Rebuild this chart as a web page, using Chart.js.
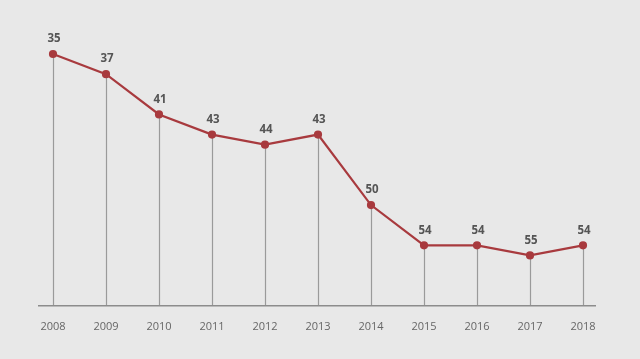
<!DOCTYPE html>
<html>
<head>
<meta charset="utf-8">
<script src="https://cdn.jsdelivr.net/npm/chart.js@4"></script>
<style>
  body { margin: 0; background: #e8e8e8; }
  canvas { display: block; }
</style>
</head>
<body>
<canvas id="myChart" width="640" height="359"></canvas>
<script>
const years = ['2008', '2009', '2010', '2011', '2012', '2013', '2014', '2015', '2016', '2017', '2018'];
const ranks = [35, 37, 41, 43, 44, 43, 50, 54, 54, 55, 54];

// vertical drop lines + baseline, and value labels
const dropLines = {
  id: 'dropLines',
  beforeDatasetsDraw(chart) {
    const ctx = chart.ctx;
    const area = chart.chartArea;
    const pts = chart.getDatasetMeta(0).data;
    ctx.save();
    ctx.strokeStyle = '#9a9a9a';
    ctx.lineWidth = 1.2;
    pts.forEach(p => {
      ctx.beginPath();
      ctx.moveTo(Math.round(p.x) + 0.5, p.y);
      ctx.lineTo(Math.round(p.x) + 0.5, area.bottom);
      ctx.stroke();
    });
    ctx.strokeStyle = '#8c8c8c';
    ctx.lineWidth = 1.5;
    ctx.beginPath();
    ctx.moveTo(area.left - 15, area.bottom);
    ctx.lineTo(area.right + 13, area.bottom);
    ctx.stroke();
    ctx.restore();
  },
  afterDatasetsDraw(chart) {
    const ctx = chart.ctx;
    const pts = chart.getDatasetMeta(0).data;
    ctx.save();
    ctx.fillStyle = '#555555';
    ctx.font = 'bold 11.5px "Open Sans"';
    ctx.textAlign = 'center';
    ctx.textBaseline = 'middle';
    pts.forEach((p, i) => {
      ctx.fillText(ranks[i], p.x + 1, p.y - 15);
    });
    ctx.restore();
  }
};

new Chart(document.getElementById('myChart'), {
  type: 'line',
  data: {
    labels: years,
    datasets: [{
      data: ranks,
      borderColor: '#a83a3e',
      borderWidth: 2.2,
      backgroundColor: '#a83a3e',
      pointRadius: 3,
      pointHoverRadius: 3,
      tension: 0,
      clip: false
    }]
  },
  options: {
    responsive: false,
    animation: false,
    layout: { padding: { left: 53, right: 57, top: 54, bottom: 12 } },
    plugins: { legend: { display: false }, tooltip: { enabled: false } },
    scales: {
      x: {
        offset: false,
        grid: { display: false, drawTicks: false },
        border: { display: false },
        ticks: { color: '#666666', font: { family: 'Open Sans', size: 11 }, padding: 14, maxRotation: 0 }
      },
      y: {
        display: false,
        reverse: true,
        min: 35,
        max: 60
      }
    }
  },
  plugins: [dropLines]
});
</script>
</body>
</html>
